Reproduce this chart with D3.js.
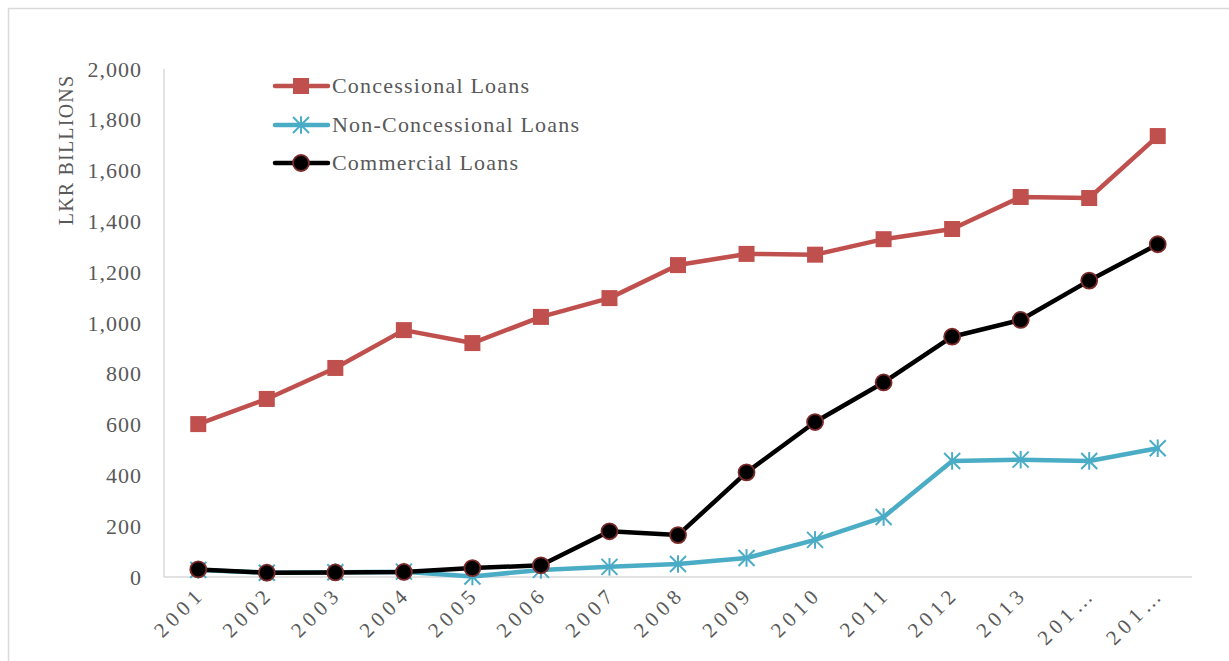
<!DOCTYPE html>
<html>
<head>
<meta charset="utf-8">
<script src="https://cdn.jsdelivr.net/npm/d3@7"></script>
<style>
  html, body { margin: 0; padding: 0; background: #fff; }
  svg { display: block; }
  text { font-family: "Liberation Serif", "DejaVu Serif", serif; fill: #595959; }
</style>
</head>
<body>
<svg id="chart" width="1229" height="661"></svg>
<script>
// Year labels as shown on the category axis
const years = ["2001","2002","2003","2004","2005","2006","2007","2008","2009","2010","2011","2012","2013","201…","201…"];

// Outstanding debt by type, LKR billions
const concessional    = [602, 701, 823, 972, 921, 1024, 1098, 1228, 1272, 1269, 1330, 1370, 1496, 1492, 1736];
const nonConcessional = [28, 17, 19, 21, 2, 28, 40, 51, 75, 146, 236, 457, 462, 457, 507];
const commercial      = [30, 17, 18, 20, 35, 46, 180, 165, 412, 610, 766, 946, 1012, 1167, 1310];

const yTicks = [0, 200, 400, 600, 800, 1000, 1200, 1400, 1600, 1800, 2000];

const series = [
  { name: "Concessional Loans",     values: concessional,    color: "#C0504D", marker: "square" },
  { name: "Non-Concessional Loans", values: nonConcessional, color: "#4BACC6", marker: "star" },
  { name: "Commercial Loans",       values: commercial,      color: "#000000", marker: "circle" }
];

const svg = d3.select("#chart");
const plot = { left: 164, right: 1192, top: 69, bottom: 577 };

// Outer frame
svg.append("path")
  .attr("d", "M8.5,661 L8.5,8.5 L1229,8.5")
  .attr("fill", "none").attr("stroke", "#D9D9D9").attr("stroke-width", 1.5);

const x = d3.scaleBand().domain(d3.range(years.length)).range([plot.left, plot.right]);
const cx = i => x(i) + x.bandwidth() / 2;
const y = d3.scaleLinear().domain([0, 2000]).range([plot.bottom, plot.top]);

// Axis lines
svg.append("line").attr("x1", plot.left).attr("x2", plot.left)
  .attr("y1", plot.top).attr("y2", plot.bottom)
  .attr("stroke", "#D9D9D9").attr("stroke-width", 1.5);
svg.append("line").attr("x1", plot.left).attr("x2", plot.right)
  .attr("y1", plot.bottom).attr("y2", plot.bottom)
  .attr("stroke", "#D9D9D9").attr("stroke-width", 1.5);

// Y axis labels
const yAxis = d3.axisLeft(y).tickValues(yTicks).tickSize(0).tickPadding(22)
  .tickFormat(d3.format(","));
const gy = svg.append("g").attr("transform", `translate(${plot.left},0)`).call(yAxis);
gy.select(".domain").remove();
gy.selectAll("text").style("font-size", "22px").style("letter-spacing", "1px")
  .style("font-family", "'Liberation Serif', serif").attr("fill", "#595959");

// X axis labels, rotated
const xAxis = d3.axisBottom(x).tickSize(0).tickFormat(i => years[i]);
const gx = svg.append("g").attr("transform", `translate(0,${plot.bottom})`).call(xAxis);
gx.select(".domain").remove();
gx.selectAll("text")
  .style("font-size", "21px")
  .style("letter-spacing", "5px")
  .style("font-family", "'Liberation Serif', serif")
  .attr("fill", "#595959")
  .attr("text-anchor", "end")
  .attr("dy", null).attr("y", 0)
  .attr("transform", "translate(8,18) rotate(-45)");

// Y axis title
svg.append("text")
  .attr("transform", "translate(73,150) rotate(-90)")
  .attr("text-anchor", "middle")
  .style("font-size", "20px")
  .style("letter-spacing", "1.2px")
  .text("LKR BILLIONS");

const line = d3.line().x((d, i) => cx(i)).y(d => y(d));

function drawMarker(g, type, px, py, color) {
  if (type === "square") {
    g.append("rect").attr("x", px - 8).attr("y", py - 8).attr("width", 16).attr("height", 16)
      .attr("fill", color);
  } else if (type === "circle") {
    g.append("circle").attr("cx", px).attr("cy", py).attr("r", 8)
      .attr("fill", "#000").attr("stroke", "#7B2C2A").attr("stroke-width", 1.8);
  } else if (type === "star") {
    const r = 8;
    const segs = [[-r, -r, r, r], [-r, r, r, -r], [0, -r * 1.1, 0, r * 1.1]];
    segs.forEach(s => g.append("line")
      .attr("x1", px + s[0]).attr("y1", py + s[1]).attr("x2", px + s[2]).attr("y2", py + s[3])
      .attr("stroke", color).attr("stroke-width", 2));
  }
}

// Lines drawn bottom-up so commercial loans sit on top
const order = [series[1], series[0], series[2]];
order.forEach(s => {
  const g = svg.append("g");
  g.append("path").datum(s.values).attr("d", line)
    .attr("fill", "none").attr("stroke", s.color).attr("stroke-width", 4.5)
    .attr("stroke-linejoin", "round").attr("stroke-linecap", "round");
  s.values.forEach((v, i) => drawMarker(g, s.marker, cx(i), y(v), s.color));
});

// Legend
const legendY = [86, 125, 163];
series.forEach((s, k) => {
  const g = svg.append("g");
  g.append("line").attr("x1", 275).attr("x2", 328)
    .attr("y1", legendY[k]).attr("y2", legendY[k])
    .attr("stroke", s.color).attr("stroke-width", 4.5).attr("stroke-linecap", "round");
  drawMarker(g, s.marker, 301, legendY[k], s.color);
  g.append("text").attr("x", 332).attr("y", legendY[k] + 7)
    .style("font-size", "22px").style("letter-spacing", "1.2px").text(s.name);
});
</script>
</body>
</html>
